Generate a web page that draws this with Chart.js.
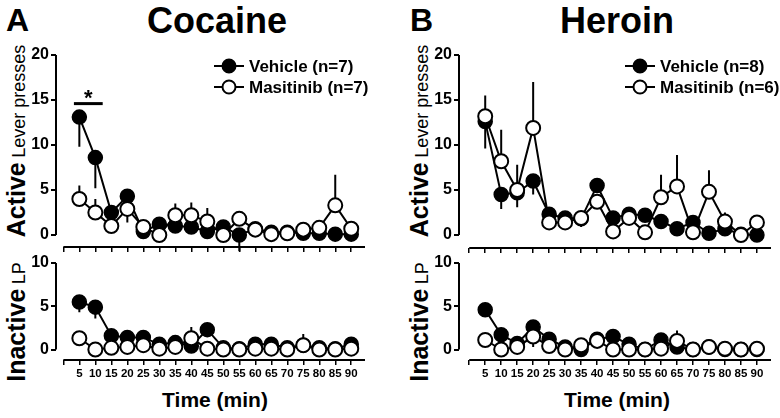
<!DOCTYPE html>
<html>
<head>
<meta charset="utf-8">
<script src="https://cdn.jsdelivr.net/npm/chart.js@4.4.1/dist/chart.umd.min.js"></script>
<style>
    body { margin: 0; background: #fff; width: 780px; height: 418px; position: relative; overflow: hidden;
           font-family: 'Liberation Sans', Arial, sans-serif; color: #000; }
    canvas { position: absolute; left: 0; top: 0; }
    .lbl { position: absolute; font-weight: bold; white-space: nowrap; line-height: 1; }
    .mid { transform: translateX(-50%); }
    .ytitle { position: absolute; white-space: nowrap; line-height: 1; transform: translate(-50%, -50%) rotate(-90deg); }
    .ytitle b { font-size: 25px; }
    .ytitle span { font-size: 18px; }
</style>
</head>
<body>
<div class="lbl" style="left:6px; top:4px; font-size:32px;">A</div>
<div class="lbl mid" style="left:217px; top:3px; font-size:36px;">Cocaine</div>
<div class="lbl" style="left:410px; top:4px; font-size:32px;">B</div>
<div class="lbl mid" style="left:617px; top:3px; font-size:36px;">Heroin</div>

<div class="ytitle" style="left:16px; top:141px;"><b>Active</b> <span>Lever presses</span></div>
<div class="ytitle" style="left:16px; top:322px;"><b>Inactive</b> <span>LP</span></div>
<div class="ytitle" style="left:419px; top:141px;"><b>Active</b> <span>Lever presses</span></div>
<div class="ytitle" style="left:419px; top:322px;"><b>Inactive</b> <span>LP</span></div>

<div class="lbl mid" style="left:215px; top:389px; font-size:21px;">Time (min)</div>
<div class="lbl mid" style="left:617px; top:389px; font-size:21px;">Time (min)</div>

<canvas id="cocAct" width="780" height="418"></canvas>
<canvas id="cocIn" width="780" height="418"></canvas>
<canvas id="herAct" width="780" height="418"></canvas>
<canvas id="herIn" width="780" height="418"></canvas>

<script>
// session time bins (min)
const minutes = [5, 10, 15, 20, 25, 30, 35, 40, 45, 50, 55, 60, 65, 70, 75, 80, 85, 90];
const xTicks = [0, 5, 10, 15, 20, 25, 30, 35, 40, 45, 50, 55, 60, 65, 70, 75, 80, 85, 90];
const activeTicks = [0, 5, 10, 15, 20];
const inactiveTicks = [0, 5, 10];

const groups = ['Vehicle', 'Masitinib'];
const cocN = [7, 7];
const herN = [8, 6];

// Cocaine - active lever presses (mean, signed SEM bar)
const cocActVeh    = [13.1, 8.6, 2.5, 4.3, 0.4, 1.2, 1.0, 0.9, 0.4, 0.9, 0.0, 0.7, 0.3, 0.3, 0.2, 0.2, 0.1, 0.1];
const cocActVehErr = [-3.3, -3.4, 0, 0, 0, 0, 0, 0, 0, 0, -1.8, 0, 0, 0, 0, 0, 0, 0];
const cocActMas    = [4.0, 2.5, 1.0, 2.9, 0.9, 0.0, 2.2, 2.2, 1.5, 0.0, 1.8, 0.6, 0.1, 0.2, 0.6, 0.8, 3.3, 0.7];
const cocActMasErr = [1.5, 1.5, 0, -1.5, 0, 0, 1.3, 1.4, 1.5, 0, 0, 0, 0, 0, 0, 0, 3.4, 0];

// Cocaine - inactive lever presses
const cocInVeh    = [5.5, 4.9, 1.6, 1.4, 1.4, 0.6, 0.8, 0.4, 2.3, 0.2, 0.1, 0.6, 0.6, 0.2, 0.5, 0.2, 0.1, 0.6];
const cocInVehErr = [-1.2, -1.3, 0, 0, 0, 0, 0, 0, 0, 0, 0, 0, 0, 0, 0, 0, 0, 0];
const cocInMas    = [1.3, 0.0, 0.2, 0.3, 0.5, 0.1, 0.3, 1.3, 0.1, 0.0, 0.0, 0.1, 0.1, 0.0, 0.5, 0.0, 0.0, 0.1];
const cocInMasErr = [0, 0, 0, 0, 0, 0, 0, 1.3, 0, 0, 0, 0, 0, 0, 1.3, 0, 0, 0];

// Heroin - active lever presses
const herActVeh    = [12.6, 4.5, 4.7, 6.0, 2.3, 1.9, 1.8, 5.5, 1.9, 2.3, 2.2, 1.5, 0.7, 1.4, 0.2, 0.7, 0.1, 0.0];
const herActVehErr = [-3.0, -1.6, -1.6, -1.5, 0, 0, -0.9, 0, 0, 0, 0, -0.8, 0, 0, 0, 0, 0, 0];
const herActMas    = [13.2, 8.2, 5.0, 11.9, 1.4, 1.4, 1.9, 3.7, 0.4, 1.9, 0.3, 4.2, 5.4, 0.3, 4.8, 1.5, 0.0, 1.4];
const herActMasErr = [2.3, 3.5, 2.8, 5.1, 0, 0, 0.6, 0, 0, 0, 0, 2.5, 3.5, 0, 2.4, 1.0, 0, 0.8];

// Heroin - inactive lever presses
const herInVeh    = [4.6, 1.7, 0.7, 2.6, 1.2, 0.3, 0.0, 1.2, 1.5, 0.6, 0.0, 1.1, 0.3, 0.0, 0.3, 0.0, 0.0, 0.0];
const herInVehErr = [0, 0, 0, 0, 0, 0, 0, 0, 0, 0, 0, 0, 0, 0, 0, 0, 0, 0];
const herInMas    = [1.1, 0.0, 0.3, 1.5, 0.4, 0.0, 0.5, 1.0, 0.0, 0.0, 0.0, 0.1, 1.0, 0.0, 0.3, 0.1, 0.0, 0.1];
const herInMasErr = [0, 0, 0, -1.2, 0, 0, 0, 0, 0, 0, 0, 0, 1.2, 0, 0, 0, 0, 0];

// significance bar over the first two bins (cocaine, active)
const sigSpan = [3.3, 12.3];
const sigLevel = 14.6;

const BOLD = "'Liberation Sans', Arial, sans-serif";
const NARROW = "'Liberation Sans Narrow', 'Arial Narrow', 'Liberation Sans', Arial, sans-serif";

// draws offset axes, error bars, legend and the significance mark
const panelPlugin = {
    id: 'panel',
    beforeDatasetsDraw(chart, args, opts) {
        const { ctx, chartArea: a, scales: { x, y } } = chart;
        ctx.save();
        ctx.strokeStyle = '#000';
        ctx.lineWidth = 2;
        ctx.beginPath();
        ctx.moveTo(a.left, y.getPixelForValue(0));
        ctx.lineTo(a.left, y.getPixelForValue(opts.yTop));
        ctx.moveTo(x.getPixelForValue(0), a.bottom);
        ctx.lineTo(a.right, a.bottom);
        ctx.stroke();

        chart.data.datasets.forEach((ds, i) => {
            const errs = opts.errors[i];
            ctx.beginPath();
            ds.data.forEach((p, j) => {
                if (!errs[j]) return;
                const px = x.getPixelForValue(p.x);
                ctx.moveTo(px, y.getPixelForValue(p.y));
                ctx.lineTo(px, y.getPixelForValue(p.y + errs[j]));
            });
            ctx.stroke();
        });
        ctx.restore();
    },
    afterDatasetsDraw(chart, args, opts) {
        const { ctx, scales: { x, y } } = chart;
        ctx.save();
        if (opts.legend) {
            const L = opts.legend;
            chart.data.datasets.forEach((ds, i) => {
                const ry = L.y + i * L.gap;
                ctx.strokeStyle = '#000';
                ctx.lineWidth = 2;
                ctx.beginPath();
                ctx.moveTo(L.x, ry);
                ctx.lineTo(L.x + 30, ry);
                ctx.stroke();
                ctx.beginPath();
                ctx.arc(L.x + 15, ry, 6.5, 0, Math.PI * 2);
                ctx.fillStyle = ds.pointBackgroundColor;
                ctx.fill();
                ctx.stroke();
                ctx.fillStyle = '#000';
                ctx.font = 'bold 17px ' + BOLD;
                ctx.textBaseline = 'middle';
                ctx.fillText(ds.label, L.x + 35, ry + 1);
            });
        }
        if (opts.sig) {
            const x0 = x.getPixelForValue(opts.sig.span[0]);
            const x1 = x.getPixelForValue(opts.sig.span[1]);
            const py = y.getPixelForValue(opts.sig.level);
            ctx.strokeStyle = '#000';
            ctx.lineWidth = 3;
            ctx.beginPath();
            ctx.moveTo(x0, py);
            ctx.lineTo(x1, py);
            ctx.stroke();
            ctx.fillStyle = '#000';
            ctx.font = 'bold 22px ' + BOLD;
            ctx.textAlign = 'center';
            ctx.textBaseline = 'alphabetic';
            ctx.fillText('*', (x0 + x1) / 2, py + 1);
        }
        ctx.restore();
    }
};

function makePanel(id, area, yTicks, yMin, showXLabels, veh, vehErr, mas, masErr, ns, extras) {
    const pts = vals => minutes.map((m, i) => ({ x: m, y: vals[i] }));
    const common = { borderColor: '#000', borderWidth: 2, pointRadius: 7, pointBorderColor: '#000', tension: 0 };
    return new Chart(document.getElementById(id), {
        type: 'line',
        data: {
            datasets: [
                Object.assign({ label: groups[0] + ' (n=' + ns[0] + ')', data: pts(veh),
                    pointBackgroundColor: '#000', pointBorderWidth: 1.5, order: 2 }, common),
                Object.assign({ label: groups[1] + ' (n=' + ns[1] + ')', data: pts(mas),
                    pointBackgroundColor: '#fff', pointBorderWidth: 2, order: 1 }, common)
            ]
        },
        options: {
            responsive: false,
            animation: false,
            events: [],
            layout: { padding: { left: area.left - 40, right: 780 - area.right, top: area.top, bottom: 418 - area.bottom - 30 } },
            scales: {
                x: {
                    type: 'linear', min: area.xMin, max: area.xMax,
                    afterBuildTicks: s => { s.ticks = xTicks.map(v => ({ value: v })); },
                    afterFit: s => { s.height = 30; },
                    border: { display: false },
                    grid: { drawOnChartArea: false, drawTicks: true, tickLength: 5, color: '#000', lineWidth: 1.5 },
                    ticks: {
                        display: showXLabels, autoSkip: false, maxRotation: 0, padding: 2, color: '#000',
                        font: { family: NARROW, size: 11.5, weight: 'bold' },
                        callback: v => (v === 0 ? '' : v)
                    }
                },
                y: {
                    min: yMin, max: yTicks[yTicks.length - 1],
                    afterBuildTicks: s => { s.ticks = yTicks.map(v => ({ value: v })); },
                    afterFit: s => { s.width = 40; },
                    border: { display: false },
                    grid: { drawOnChartArea: false, drawTicks: true, tickLength: 5, color: '#000', lineWidth: 2 },
                    ticks: { padding: 2, color: '#000', font: { family: BOLD, size: 16, weight: 'bold' } }
                }
            },
            plugins: {
                legend: { display: false },
                tooltip: { enabled: false },
                panel: Object.assign({ yTop: yTicks[yTicks.length - 1], errors: [vehErr, masErr] }, extras)
            }
        },
        plugins: [panelPlugin]
    });
}

const leftCol = { left: 56, right: 365, xMin: -2.3, xMax: 94.3 };
const rightCol = { left: 459, right: 772, xMin: -3.2, xMax: 94.4 };

makePanel('cocAct', Object.assign({ top: 55, bottom: 247 }, leftCol), activeTicks, -1.33, false,
    cocActVeh, cocActVehErr, cocActMas, cocActMasErr, cocN,
    { legend: { x: 214, y: 66, gap: 21 }, sig: { span: sigSpan, level: sigLevel } });
makePanel('cocIn', Object.assign({ top: 263, bottom: 360 }, leftCol), inactiveTicks, -1.21, true,
    cocInVeh, cocInVehErr, cocInMas, cocInMasErr, cocN, {});
makePanel('herAct', Object.assign({ top: 55, bottom: 248 }, rightCol), activeTicks, -1.44, false,
    herActVeh, herActVehErr, herActMas, herActMasErr, herN,
    { legend: { x: 625, y: 66, gap: 21 } });
makePanel('herIn', Object.assign({ top: 263, bottom: 360 }, rightCol), inactiveTicks, -1.21, true,
    herInVeh, herInVehErr, herInMas, herInMasErr, herN, {});
</script>
</body>
</html>
